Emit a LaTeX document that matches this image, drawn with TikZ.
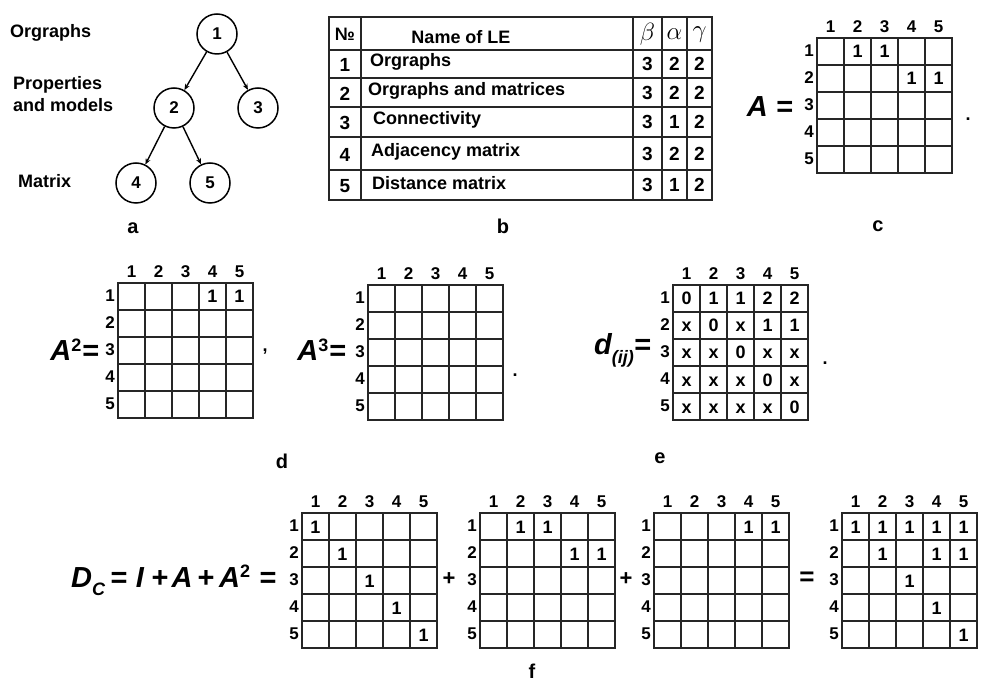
\documentclass[tikz,border=0pt]{standalone}
\usepackage{fontspec}
\setmainfont{Liberation Sans}
\usetikzlibrary{arrows.meta}
\tikzset{
  gridln/.style={line width=1.6pt, draw=black!85},
  lbl/.style={font=\fontsize{17}{17}\selectfont\bfseries, inner sep=0pt},
  ent/.style={font=\fontsize{18}{18}\selectfont\bfseries, inner sep=0pt, text height=13pt, text depth=0pt},
  tnode/.style={circle, draw, line width=1.5pt, minimum size=40pt, inner sep=0pt, font=\fontsize{17}{17}\selectfont\bfseries},
  tarrow/.style={line width=1.4pt, -{Stealth[length=6pt,width=5pt]}},
  side/.style={font=\fontsize{18}{22}\selectfont\bfseries, anchor=west, align=left, inner sep=0pt},
  captxt/.style={font=\fontsize{20}{20}\selectfont\bfseries, inner sep=0pt},
  eqn/.style={font=\fontsize{29}{29}\selectfont\bfseries\itshape, inner sep=0pt},
  eqop/.style={font=\fontsize{29}{29}\selectfont\bfseries, inner sep=0pt},
  tabln/.style={line width=1.6pt, draw=black!85},
  ttxt/.style={font=\fontsize{18}{18}\selectfont\bfseries, inner sep=0pt},
  tnum/.style={font=\fontsize{19}{19}\selectfont\bfseries, inner sep=0pt},
  greek/.style={font=\fontsize{24}{24}\selectfont, inner sep=0pt},
}
\newcommand\mymat[2]{%
  \draw[gridln] (#1,#2) rectangle ++(135,135);
  \foreach \k in {1,...,4}{%
    \draw[gridln] ({#1+27*\k},#2) -- ++(0,135);
    \draw[gridln] (#1,{#2+27*\k}) -- ++(135,0);}
  \foreach \k in {1,...,5}{%
    \node[lbl] at ({#1+27*\k-13.5},{#2-11}) {\k};
    \node[lbl,anchor=east] at ({#1-3},{#2+27*\k-14}) {\k};}
}
\newcommand\myent[3]{%
  \foreach \r/\c/\v in {#3}{\node[ent] at ({#1+27*\c-13.5},{#2+27*\r-13.5}) {\v};}
}
\newcommand\mysup[1]{\textsuperscript{\fontsize{18}{18}\selectfont\upshape #1}}
\begin{document}
\begin{tikzpicture}[x=1pt,y=-1pt]
\useasboundingbox[fill=white] (0,0) rectangle (982,684);

% ---- (a) tree
\node[tnode] (n1) at (217,34) {1};
\node[tnode] (n2) at (174,108) {2};
\node[tnode] (n3) at (258,108) {3};
\node[tnode] (n4) at (136,183) {4};
\node[tnode] (n5) at (210,183) {5};
\draw[tarrow] (n1) -- (n2);
\draw[tarrow] (n1) -- (n3);
\draw[tarrow] (n2) -- (n4);
\draw[tarrow] (n2) -- (n5);
\node[side] (s1) at (10,33) {Orgraphs};
\node[side] (s2) at (13,94) {Properties\\and models};
\node[side] (s3) at (18,181) {Matrix};
\node[captxt] (ca) at (133,228) {a};

% ---- (b) table
\draw[tabln] (329,17) rectangle (712,200);
\foreach \yy in {50,78,107,137,170}{\draw[tabln] (329,\yy) -- (712,\yy);}
\foreach \xx in {361,633,662,687}{\draw[tabln] (\xx,17) -- (\xx,200);}
\node[ttxt] (h0) at (345,34) {№};
\node[ttxt] (h1) at (461,37) {Name of LE};
\node[greek] (hb) at (647.5,34) {$\beta$};
\node[greek] (ha) at (674.5,34) {$\alpha$};
\node[greek] (hg) at (699.5,35) {$\gamma$};
\foreach \i/\yc/\nm/\xo/\b/\a/\g in {1/64/Orgraphs/370/3/2/2, 2/92.5/Orgraphs and matrices/368/3/2/2, 3/122/Connectivity/373/3/1/2, 4/153.5/Adjacency matrix/371/3/2/2, 5/185/Distance matrix/372/3/1/2}{%
  \node[tnum] at (345,\yc+1) {\i};
  \node[ttxt,anchor=west] at (\xo,\yc-2) {\nm};
  \node[tnum] at (647.5,\yc) {\b};
  \node[tnum] at (674.5,\yc) {\a};
  \node[tnum] at (699.5,\yc) {\g};
}
\node[captxt] (cb) at (503,226) {b};

% ---- (c) A
\mymat{817}{38}
\myent{817}{38}{1/2/1,1/3/1,2/4/1,2/5/1}
\node[eqn,anchor=east] (eqA) at (793,107) {A =};
\node[ent] (dotc) at (968,114) {.};
\node[captxt] (cc) at (878,226) {c};

% ---- (d) A^2, A^3
\mymat{118}{283}
\myent{118}{283}{1/4/1,1/5/1}
\node[eqn,anchor=east] (eqA2) at (99,350) {A\mysup{2}=};
\node[ent] (comd) at (265,345) {,};
\mymat{368}{285}
\node[eqn,anchor=east] (eqA3) at (346,350) {A\mysup{3}=};
\node[ent] (dotd) at (515,370) {.};
\node[captxt] (cd) at (282,461) {d};

% ---- (e) d_(ij)
\mymat{673}{285}
\myent{673}{285}{1/1/0,1/2/1,1/3/1,1/4/2,1/5/2,
 2/1/x,2/2/0,2/3/x,2/4/1,2/5/1,
 3/1/x,3/2/x,3/3/0,3/4/x,3/5/x,
 4/1/x,4/2/x,4/3/x,4/4/0,4/5/x,
 5/1/x,5/2/x,5/3/x,5/4/x,5/5/0}
\node[eqn,anchor=east] (eqd) at (651,350) {d\raisebox{-9pt}{\fontsize{18}{18}\selectfont (ij)}=};
\node[ent] (dote) at (825,358) {.};
\node[captxt] (ce) at (660,458) {e};

% ---- (f) D_C
\mymat{302}{513}
\myent{302}{513}{1/1/1,2/2/1,3/3/1,4/4/1,5/5/1}
\mymat{480}{513}
\myent{480}{513}{1/2/1,1/3/1,2/4/1,2/5/1}
\mymat{654}{513}
\myent{654}{513}{1/4/1,1/5/1}
\mymat{842}{513}
\myent{842}{513}{1/1/1,1/2/1,1/3/1,1/4/1,1/5/1,2/2/1,2/4/1,2/5/1,3/3/1,4/4/1,5/5/1}
\node[eqn,anchor=base west] (fD) at (71,587) {D\raisebox{-8pt}{\fontsize{18}{18}\selectfont C}};
\node[eqop,anchor=base] (fe1) at (119,587) {=};
\node[eqn,anchor=base] (fI) at (140,587) {I};
\node[eqop,anchor=base] (fp1) at (160,587) {+};
\node[eqn,anchor=base] (fA) at (182,587) {A};
\node[eqop,anchor=base] (fp2) at (206,587) {+};
\node[eqn,anchor=base west] (fA2) at (219,587) {A\mysup{2}};
\node[eqop,anchor=base] (fe2) at (268,587) {=};
\node[font=\fontsize{22}{22}\selectfont\bfseries, inner sep=0pt] (p1) at (449,579) {+};
\node[font=\fontsize{22}{22}\selectfont\bfseries, inner sep=0pt] (p2) at (626,579) {+};
\node[font=\fontsize{26}{26}\selectfont\bfseries, inner sep=0pt] (e1) at (807,579) {=};
\node[captxt] (cf) at (532,671) {f};
\end{tikzpicture}
\end{document}
